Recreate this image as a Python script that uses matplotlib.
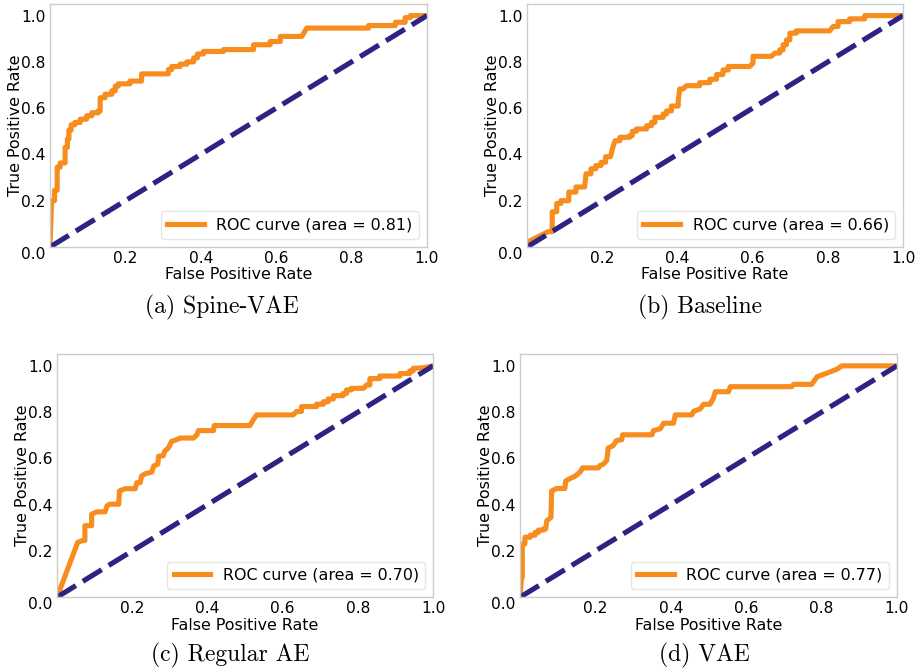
import matplotlib as mpl
mpl.use("Agg")
import matplotlib.pyplot as plt

# ROC curve vertices (fpr, tpr) for each model
spine_vae_fpr = [0, 0.004, 0.012, 0.012, 0.019, 0.019, 0.027, 0.027, 0.040, 0.040, 0.046, 0.046,
                 0.050, 0.050, 0.056, 0.056, 0.066, 0.066, 0.080, 0.080, 0.097, 0.097, 0.111, 0.111,
                 0.128, 0.128, 0.133, 0.133, 0.146, 0.146, 0.164, 0.164, 0.173, 0.173, 0.181, 0.181,
                 0.212, 0.212, 0.243, 0.243, 0.314, 0.314, 0.323, 0.323, 0.345, 0.345, 0.363, 0.363,
                 0.381, 0.381, 0.391, 0.391, 0.407, 0.407, 0.46, 0.46, 0.54, 0.54, 0.584, 0.584,
                 0.611, 0.611, 0.668, 0.681, 0.845, 0.845, 0.916, 0.916, 0.942, 0.942, 0.956, 0.956, 1.0]
spine_vae_tpr = [0, 0.20, 0.20, 0.245, 0.245, 0.345, 0.345, 0.363, 0.363, 0.43, 0.43, 0.466,
                 0.466, 0.505, 0.505, 0.528, 0.528, 0.538, 0.538, 0.552, 0.552, 0.567, 0.567, 0.58,
                 0.58, 0.588, 0.588, 0.645, 0.645, 0.660, 0.660, 0.675, 0.675, 0.695, 0.695, 0.705,
                 0.705, 0.717, 0.717, 0.748, 0.748, 0.767, 0.767, 0.78, 0.78, 0.79, 0.79, 0.80,
                 0.80, 0.817, 0.817, 0.834, 0.834, 0.845, 0.845, 0.853, 0.853, 0.874, 0.874, 0.888,
                 0.888, 0.91, 0.91, 0.946, 0.946, 0.957, 0.957, 0.971, 0.971, 0.991, 0.991, 1.0, 1.0]

baseline_fpr = [0, 0.056, 0.067, 0.067, 0.079, 0.079, 0.09, 0.09, 0.111, 0.111, 0.130, 0.130,
                0.153, 0.157, 0.170, 0.170, 0.183, 0.183, 0.197, 0.197, 0.209, 0.209, 0.222, 0.228,
                0.234, 0.247, 0.247, 0.273, 0.273, 0.28, 0.28, 0.291, 0.291, 0.318, 0.318, 0.331,
                0.331, 0.340, 0.340, 0.362, 0.362, 0.371, 0.371, 0.384, 0.384, 0.402, 0.402, 0.406,
                0.415, 0.424, 0.459, 0.459, 0.486, 0.486, 0.504, 0.504, 0.521, 0.521, 0.535, 0.535,
                0.592, 0.601, 0.601, 0.650, 0.659, 0.672, 0.672, 0.681, 0.681, 0.690, 0.690, 0.699,
                0.699, 0.716, 0.716, 0.805, 0.814, 0.827, 0.827, 0.858, 0.858, 0.898, 0.898, 1.0]
baseline_tpr = [0.02, 0.066, 0.066, 0.152, 0.152, 0.188, 0.188, 0.20, 0.20, 0.237, 0.237, 0.259,
                0.259, 0.316, 0.316, 0.338, 0.338, 0.352, 0.352, 0.366, 0.366, 0.39, 0.39, 0.43,
                0.459, 0.459, 0.474, 0.474, 0.481, 0.481, 0.50, 0.50, 0.51, 0.51, 0.524, 0.524,
                0.538, 0.538, 0.56, 0.56, 0.575, 0.575, 0.588, 0.588, 0.609, 0.609, 0.630, 0.683,
                0.683, 0.697, 0.697, 0.71, 0.71, 0.725, 0.725, 0.745, 0.745, 0.765, 0.765, 0.78,
                0.78, 0.795, 0.824, 0.824, 0.838, 0.838, 0.852, 0.852, 0.874, 0.874, 0.895, 0.895,
                0.924, 0.924, 0.934, 0.934, 0.953, 0.953, 0.974, 0.974, 0.986, 0.986, 1.0, 1.0]

regular_ae_fpr = [0, 0.055, 0.068, 0.074, 0.074, 0.092, 0.092, 0.106, 0.128, 0.133, 0.140, 0.164,
                  0.166, 0.181, 0.208, 0.212, 0.221, 0.225, 0.235, 0.252, 0.257, 0.268, 0.270, 0.283,
                  0.286, 0.296, 0.305, 0.319, 0.327, 0.363, 0.372, 0.376, 0.416, 0.418, 0.513, 0.522,
                  0.531, 0.628, 0.637, 0.65, 0.65, 0.69, 0.69, 0.708, 0.708, 0.721, 0.721, 0.735,
                  0.735, 0.761, 0.761, 0.77, 0.77, 0.783, 0.783, 0.815, 0.823, 0.832, 0.832, 0.858,
                  0.858, 0.912, 0.912, 0.938, 0.938, 0.947, 0.947, 0.975, 1.0]
regular_ae_tpr = [0, 0.237, 0.245, 0.245, 0.309, 0.309, 0.359, 0.369, 0.369, 0.395, 0.402, 0.402,
                  0.459, 0.469, 0.469, 0.495, 0.495, 0.524, 0.534, 0.541, 0.567, 0.575, 0.609, 0.612,
                  0.631, 0.645, 0.674, 0.681, 0.688, 0.688, 0.702, 0.72, 0.72, 0.742, 0.742, 0.767,
                  0.788, 0.788, 0.803, 0.803, 0.824, 0.824, 0.834, 0.834, 0.845, 0.845, 0.857, 0.857,
                  0.871, 0.871, 0.881, 0.881, 0.896, 0.896, 0.903, 0.903, 0.917, 0.917, 0.945, 0.945,
                  0.956, 0.956, 0.967, 0.967, 0.978, 0.978, 0.989, 0.992, 1.0]

vae_fpr = [0, 0.004, 0.006, 0.006, 0.013, 0.013, 0.027, 0.027, 0.040, 0.040, 0.049, 0.049,
           0.062, 0.062, 0.068, 0.071, 0.082, 0.084, 0.097, 0.119, 0.121, 0.134, 0.147, 0.16,
           0.166, 0.208, 0.212, 0.221, 0.23, 0.234, 0.247, 0.256, 0.27, 0.272, 0.35, 0.354,
           0.372, 0.381, 0.407, 0.412, 0.456, 0.46, 0.478, 0.487, 0.504, 0.513, 0.518, 0.553,
           0.558, 0.721, 0.726, 0.774, 0.788, 0.805, 0.823, 0.841, 0.854, 1.0]
vae_tpr = [0, 0.087, 0.087, 0.23, 0.23, 0.259, 0.259, 0.268, 0.268, 0.28, 0.28, 0.29,
           0.29, 0.295, 0.295, 0.33, 0.345, 0.459, 0.47, 0.47, 0.502, 0.514, 0.524, 0.542,
           0.559, 0.559, 0.569, 0.575, 0.591, 0.645, 0.655, 0.677, 0.681, 0.702, 0.702, 0.72,
           0.728, 0.752, 0.752, 0.788, 0.788, 0.803, 0.814, 0.834, 0.834, 0.86, 0.888, 0.888,
           0.91, 0.91, 0.92, 0.92, 0.953, 0.963, 0.974, 0.986, 1.0, 1.0]

areas = [0.81, 0.66, 0.70, 0.77]
captions = ["(a) Spine-VAE", "(b) Baseline", "(c) Regular AE", "(d) VAE"]
curves = [(spine_vae_fpr, spine_vae_tpr), (baseline_fpr, baseline_tpr),
          (regular_ae_fpr, regular_ae_tpr), (vae_fpr, vae_tpr)]

ticks = [0.0, 0.2, 0.4, 0.6, 0.8, 1.0]

fig = plt.figure(figsize=(9.23, 6.71), dpi=100)

# axes rectangles [left, bottom, width, height] and caption centres
rects = [[0.0542, 0.632, 0.4084, 0.362],
         [0.5710, 0.632, 0.4074, 0.362],
         [0.0618, 0.110, 0.4074, 0.362],
         [0.5634, 0.110, 0.4084, 0.362]]
caption_pos = [(0.2405, 0.5425), (0.758, 0.5425), (0.249, 0.0238), (0.763, 0.0238)]

for rect, (fpr, tpr), area, cap, cpos in zip(rects, curves, areas, captions, caption_pos):
    ax = fig.add_axes(rect)
    ax.plot(fpr, tpr, color="#f68d1e", lw=3.7,
            label="ROC curve (area = %0.2f)" % area)
    ax.plot([0, 1], [0, 1], color="#2c2383", lw=3.7, linestyle=(0, (4.3, 1.6)))
    ax.set_xlim(0.0, 1.0)
    ax.set_ylim(0.0, 1.05)
    ax.set_xticks(ticks[1:])
    ax.set_yticks(ticks)
    ax.tick_params(length=0, pad=3, labelsize=11.2)
    # the shared origin label sits below the corner
    ax.get_yticklabels()[0].set_verticalalignment("top")
    ax.set_xlabel("False Positive Rate", fontsize=11.4, labelpad=1)
    ax.set_ylabel("True Positive Rate", fontsize=11.4, labelpad=-1)
    for sp in ax.spines.values():
        sp.set_color("#cccccc")
        sp.set_linewidth(1.0)
    leg = ax.legend(loc="lower right", fontsize=11.4, handlelength=2.3,
                    fancybox=True, framealpha=1.0)
    leg.get_frame().set_edgecolor("#e6e6e6")
    fig.text(cpos[0], cpos[1], cap, ha="center", va="center",
             fontsize=17, family="cmr10")

fig.savefig("out.png", dpi=100)
